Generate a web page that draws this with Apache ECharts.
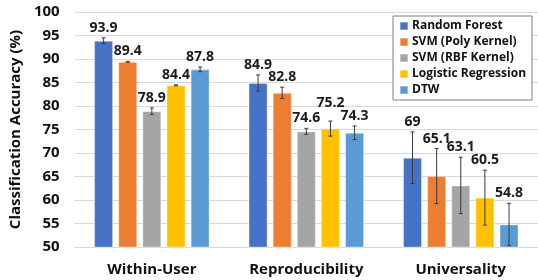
<!DOCTYPE html>
<html>
<head>
<meta charset="utf-8">
<script src="https://cdn.jsdelivr.net/npm/echarts@6/dist/echarts.min.js"></script>
<style>
  html, body { margin: 0; padding: 0; background: #fff; }
  #main { width: 538px; height: 280px; }
</style>
</head>
<body>
<div id="main"></div>
<script>
// categories and series
var categories = ['Within-User', 'Reproducibility', 'Universality'];
var seriesNames = ['Random Forest', 'SVM (Poly Kernel)', 'SVM (RBF Kernel)', 'Logistic Regression', 'DTW'];

// accuracy values (%)
var randomForest = [93.9, 84.9, 69];
var svmPoly = [89.4, 82.8, 65.1];
var svmRbf = [78.9, 74.6, 63.1];
var logReg = [84.4, 75.2, 60.5];
var dtw = [87.8, 74.3, 54.8];

// error bar half widths
var randomForestErr = [0.6, 1.7, 5.5];
var svmPolyErr = [0.1, 1.2, 5.85];
var svmRbfErr = [0.7, 0.65, 6.0];
var logRegErr = [0.1, 1.6, 5.85];
var dtwErr = [0.5, 1.45, 4.5];

var yMin = 50, yMax = 100, yStep = 5;

var values = [randomForest, svmPoly, svmRbf, logReg, dtw];
var errors = [randomForestErr, svmPolyErr, svmRbfErr, logRegErr, dtwErr];
var colors = ['#4472C4', '#ED7D31', '#A5A5A5', '#FFC000', '#5B9BD5'];

var font = '"Open Sans", "Liberation Sans", sans-serif';
var barW = 19, barGap = 0.27;

var series = [];
values.forEach(function (vals, i) {
  series.push({
    name: seriesNames[i],
    type: 'bar',
    data: vals,
    barWidth: barW,
    barGap: (barGap * 100) + '%',
    itemStyle: { color: colors[i], borderColor: 'rgba(255,255,255,0.35)', borderWidth: 1 }
  });
});

// label baseline above error bar top; push up when it collides with left neighbour's label
function labelY(api, i, c) {
  var y = api.coord([c, values[i][c] + errors[i][c]])[1] - 3;
  if (i > 0) {
    var prev = labelY(api, i - 1, c);
    if (Math.abs(y - prev) < 8) y = Math.min(y, prev - 15);
  }
  return y;
}

values.forEach(function (vals, i) {
  var rows = vals.map(function (v, c) { return [c, v, errors[i][c]]; });
  series.push({
    type: 'custom',
    z: 5,
    silent: true,
    data: rows,
    encode: { x: 0, y: 1 },
    renderItem: function (params, api) {
      var c = api.value(0), v = api.value(1), e = api.value(2);
      var off = (i - 2) * barW * (1 + barGap);
      var x = api.coord([c, v])[0] + off;
      var top = api.coord([c, v + e])[1];
      var bot = api.coord([c, v - e])[1];
      var st = { stroke: '#3a3a3a', lineWidth: 1 };
      return {
        type: 'group',
        children: [
          { type: 'line', shape: { x1: x, y1: top, x2: x, y2: bot }, style: st },
          { type: 'line', shape: { x1: x - 2, y1: top, x2: x + 2, y2: top }, style: st },
          { type: 'line', shape: { x1: x - 2, y1: bot, x2: x + 2, y2: bot }, style: st },
          { type: 'text', style: {
              text: String(v), x: x, y: labelY(api, i, c),
              align: 'center', verticalAlign: 'bottom',
              font: 'bold 14px ' + font, fill: '#1a1a1a'
          } }
        ]
      };
    }
  });
});

var chart = echarts.init(document.getElementById('main'));
chart.setOption({
  animation: false,
  grid: { left: 74, top: 12, width: 470, height: 235 },
  legend: {
    data: seriesNames,
    orient: 'vertical',
    left: 393,
    top: 16,
    padding: [3, 6, 3, 6],
    itemGap: 2,
    itemWidth: 8,
    itemHeight: 8,
    icon: 'rect',
    backgroundColor: '#fff',
    borderColor: '#7f7f7f',
    borderWidth: 1,
    textStyle: { fontFamily: font, fontWeight: 'bold', fontSize: 12, color: '#111', lineHeight: 14, padding: [0, 0, 0, -1] }
  },
  xAxis: {
    type: 'category',
    data: categories,
    axisLine: { lineStyle: { color: '#d9d9d9' } },
    axisTick: { show: false },
    axisLabel: { margin: 15, fontFamily: font, fontWeight: 'bold', fontSize: 15, color: '#111' }
  },
  yAxis: {
    type: 'value',
    min: yMin,
    max: yMax,
    interval: yStep,
    name: 'Classification Accuracy (%)',
    nameLocation: 'middle',
    nameRotate: 90,
    nameGap: 49,
    nameTextStyle: { fontFamily: font, fontWeight: 'bold', fontSize: 15, color: '#111' },
    axisLine: { show: false },
    axisTick: { show: false },
    splitLine: { lineStyle: { color: '#d9d9d9' } },
    axisLabel: { margin: 15, fontFamily: font, fontWeight: 'bold', fontSize: 15, color: '#111' }
  },
  series: series
});
</script>
</body>
</html>
